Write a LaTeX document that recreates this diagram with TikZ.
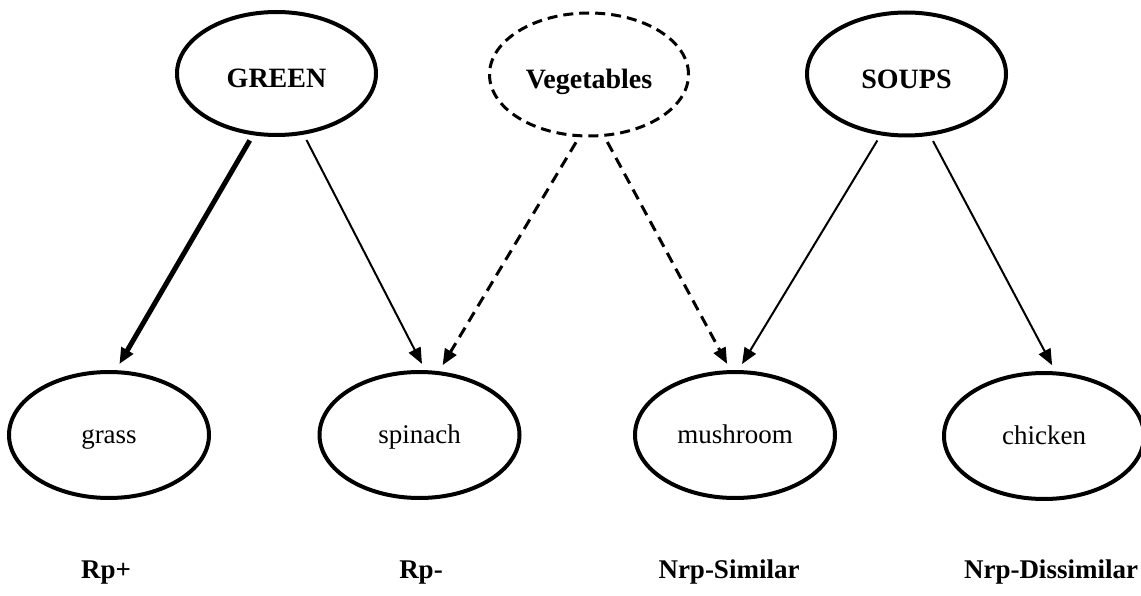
\documentclass[tikz,border=0pt]{standalone}
\usepackage{fontspec}
\setmainfont{Liberation Serif}
\usetikzlibrary{shapes.geometric,arrows.meta}
\tikzset{
  topell/.style={ellipse, draw, line width=4pt, minimum width=199pt, minimum height=123pt,
    inner sep=0pt, text height=29pt, text depth=0pt, font=\fontsize{28}{30}\selectfont\bfseries},
  dashell/.style={topell, line width=3pt, dash pattern=on 10pt off 6pt},
  botell/.style={ellipse, draw, line width=4pt, minimum width=200pt, minimum height=126pt,
    inner sep=0pt, text height=17pt, text depth=0pt, font=\fontsize{27}{30}\selectfont},
  cat/.style={anchor=base, inner sep=0pt, font=\fontsize{27}{30}\selectfont\bfseries},
  arr/.style={-{Triangle[length=16pt,width=13pt]}, line width=2pt, shorten <=6pt, shorten >=7pt},
  thickarr/.style={arr, line width=5pt},
  dasharr/.style={arr, line width=3pt, dash pattern=on 11pt off 7pt},
}
\begin{document}
\begin{tikzpicture}[x=1pt,y=-1pt]
\useasboundingbox (0,0) rectangle (1141,596);
\node[topell] (green) at (276.5,73.5) {GREEN};
\node[dashell] (veg) at (589,74.5) {Vegetables};
\node[topell] (soups) at (906.5,74) {SOUPS};
\node[botell] (grass) at (109,435) {grass};
\node[botell] (spinach) at (419.5,435) {spinach};
\node[botell] (mushroom) at (735,435) {mushroom};
\node[botell] (chicken) at (1044,436) {chicken};
\node[cat] (l1) at (106,578) {Rp+};
\node[cat] (l2) at (421,578) {Rp-};
\node[cat] (l3) at (729,578) {Nrp-Similar};
\node[cat] (l4) at (1051,578) {Nrp-Dissimilar};
\draw[thickarr] (green.249.6) -- (grass.84.5);
\draw[arr] (green.294.6) -- (spinach.85);
\draw[dasharr] (veg.261.8) -- (spinach.73.6);
\draw[dasharr] (veg.284.7) -- (mushroom.94.1);
\draw[arr] (soups.247.6) -- (mushroom.87.1);
\draw[arr] (soups.291.1) -- (chicken.80.4);
\end{tikzpicture}
\end{document}
